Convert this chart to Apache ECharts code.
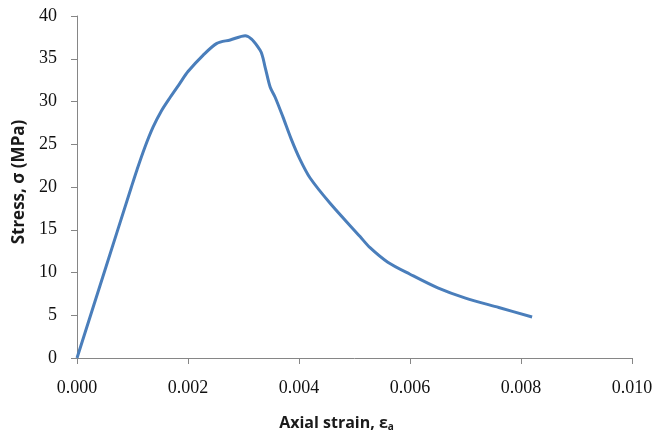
<!DOCTYPE html>
<html>
<head>
<meta charset="utf-8">
<script src="https://cdn.jsdelivr.net/npm/echarts@6/dist/echarts.min.js"></script>
<style>
  html, body { margin: 0; padding: 0; background: #fff; }
  #chart { width: 657px; height: 437px; }
</style>
</head>
<body>
<div id="chart"></div>
<script>
// axial strain (-) vs stress (MPa)
const strain = [0, 0.0005, 0.00098, 0.00108, 0.00122, 0.00137, 0.00152, 0.00168, 0.00185,
  0.002, 0.00227, 0.00252, 0.00276, 0.00303, 0.0033, 0.00339, 0.00348, 0.00357, 0.00371,
  0.00386, 0.00402, 0.0042, 0.00456, 0.0051, 0.00528, 0.0056, 0.006, 0.0065, 0.007, 0.0076, 0.0082];
const stress = [0, 10.2, 20.0, 22.0, 24.6, 27.0, 28.9, 30.5, 32.1,
  33.5, 35.4, 36.8, 37.2, 37.7, 36.0, 34.0, 31.7, 30.5, 28.2,
  25.6, 23.2, 21.05, 18.1, 14.2, 12.9, 11.2, 9.8, 8.2, 7.0, 5.9, 4.8];
const xTicks = [0, 0.002, 0.004, 0.006, 0.008, 0.010];
const yTicks = [0, 5, 10, 15, 20, 25, 30, 35, 40];

const chart = echarts.init(document.getElementById('chart'));
const axisGray = '#868686';
const tickFont = 'Liberation Serif';

chart.setOption({
  animation: false,
  backgroundColor: '#fff',
  grid: { left: 77, right: 25, top: 16, bottom: 79, outerBoundsMode: 'none' },
  xAxis: {
    type: 'value',
    min: xTicks[0],
    max: xTicks[xTicks.length - 1],
    interval: 0.002,
    name: '{b|Axial strain, ε}{s|a}',
    nameLocation: 'middle',
    nameGap: 57,
    nameTextStyle: {
      padding: [0, 36, 0, 0],
      rich: {
        b: { fontFamily: 'Open Sans', fontWeight: 'bold', fontSize: 16, color: '#1a1a1a' },
        s: { fontFamily: 'Open Sans', fontWeight: 'bold', fontSize: 10, color: '#1a1a1a', verticalAlign: 'bottom', padding: [7, 0, 0, 0] }
      }
    },
    axisLine: { lineStyle: { color: axisGray, width: 1 } },
    axisTick: { inside: false, length: 6, lineStyle: { color: axisGray } },
    splitLine: { show: false },
    axisLabel: {
      margin: 21,
      fontFamily: tickFont, fontSize: 18, color: '#111',
      formatter: v => v.toFixed(3)
    }
  },
  yAxis: {
    type: 'value',
    min: yTicks[0],
    max: yTicks[yTicks.length - 1],
    interval: 5,
    name: 'Stress, σ (MPa)',
    nameLocation: 'middle',
    nameGap: 46,
    nameTextStyle: { fontFamily: 'Open Sans', fontWeight: 'bold', fontSize: 17, color: '#1a1a1a', padding: [0, 0, 0, 10] },
    axisLine: { show: true, lineStyle: { color: axisGray, width: 1 } },
    axisTick: { show: true, inside: false, length: 6, lineStyle: { color: axisGray } },
    splitLine: { show: false },
    axisLabel: { margin: 20, fontFamily: tickFont, fontSize: 18, color: '#111' }
  },
  series: [{
    type: 'line',
    data: strain.map((x, i) => [x, stress[i]]),
    showSymbol: false,
    smooth: 0.3,
    lineStyle: { color: '#4a7ebb', width: 3 }
  }]
});
</script>
</body>
</html>
